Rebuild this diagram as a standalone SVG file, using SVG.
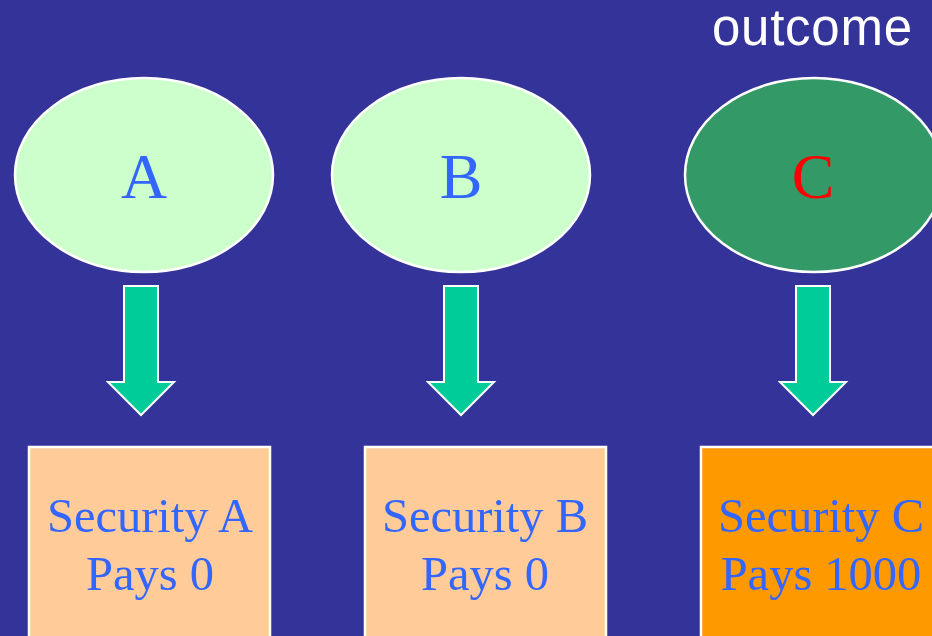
<svg xmlns="http://www.w3.org/2000/svg" width="932" height="636" viewBox="0 0 932 636">
<style>
.bg{fill:#333399}
.ell{stroke:#ffffff;stroke-width:2.5}
.ltr{font-family:"Liberation Serif","Times New Roman",serif;font-size:64px;text-anchor:middle}
.arr{fill:#00CC99;stroke:#ffffff;stroke-width:2}
.box{stroke:#ffffff;stroke-width:2.5}
.sec{font-family:"Liberation Serif","Times New Roman",serif;font-size:48.5px;fill:#3366FF;text-anchor:middle}
</style>
<defs>
<path id="arrowShape" d="M-17,-129 L17,-129 L17,-33 L33,-33 L0,0 L-33,-33 L-17,-33 Z"/>
</defs>
<rect class="bg" x="0" y="0" width="932" height="636"/>
<text x="712" y="45" font-family="'Liberation Sans',Arial,sans-serif" font-size="51" fill="#ffffff" textLength="200" lengthAdjust="spacing">outcome</text>
<g id="nodeA">
<ellipse class="ell" cx="144" cy="175" rx="129" ry="97" fill="#CCFFCC"/>
<text class="ltr" x="144" y="198" fill="#3366FF">A</text>
</g>
<g id="nodeB">
<ellipse class="ell" cx="461" cy="175" rx="129" ry="97" fill="#CCFFCC"/>
<text class="ltr" x="461" y="198" fill="#3366FF">B</text>
</g>
<g id="nodeC">
<ellipse class="ell" cx="814" cy="175" rx="129" ry="97" fill="#339966"/>
<text class="ltr" x="813" y="198" fill="#FF0000">C</text>
</g>
<g id="connectors">
<use href="#arrowShape" class="arr" transform="translate(141,415)"/>
<use href="#arrowShape" class="arr" transform="translate(461,415)"/>
<use href="#arrowShape" class="arr" transform="translate(813,415)"/>
</g>
<g id="secA">
<rect class="box" x="29" y="447" width="241" height="200" fill="#FFCC99"/>
<text class="sec" x="150" y="532">Security A</text>
<text class="sec" x="150" y="590">Pays 0</text>
</g>
<g id="secB">
<rect class="box" x="365" y="447" width="241" height="200" fill="#FFCC99"/>
<text class="sec" x="485" y="532">Security B</text>
<text class="sec" x="485" y="590">Pays 0</text>
</g>
<g id="secC">
<rect class="box" x="701" y="447" width="242" height="200" fill="#FF9900"/>
<text class="sec" x="821" y="532">Security C</text>
<text class="sec" x="821" y="590">Pays 1000</text>
</g>
</svg>
